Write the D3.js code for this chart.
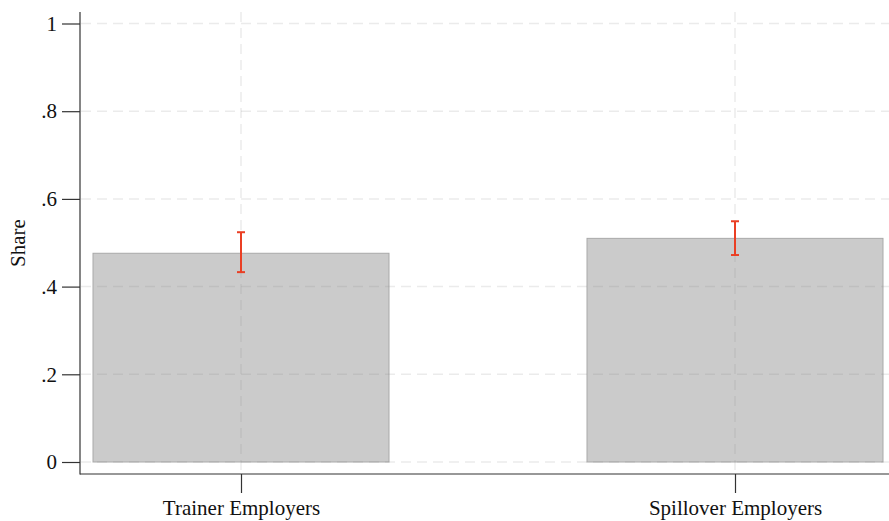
<!DOCTYPE html>
<html><head><meta charset="utf-8">
<script src="https://cdn.jsdelivr.net/npm/d3@7"></script>
<style>body{margin:0;background:#fff}svg{display:block}</style>
</head><body>
<script>
const categories = ["Trainer Employers", "Spillover Employers"];
const shares = [0.476, 0.510];
const ciLow = [0.433, 0.472];
const ciHigh = [0.524, 0.549];
const yTicks = [0, 0.2, 0.4, 0.6, 0.8, 1];
const yTickLabels = ["0", ".2", ".4", ".6", ".8", "1"];

const W = 889, H = 521;
const svg = d3.select("body").append("svg").attr("width", W).attr("height", H);
const font = "Liberation Serif, Times New Roman, serif";
const fs = 21;

const x = d3.scalePoint().domain(categories).range([241, 735]);
const y = d3.scaleLinear().domain([0, 1]).range([462, 23.5]);
const barW = 296;

// bars
svg.selectAll("rect.bar").data(categories).enter().append("rect")
  .attr("x", d => x(d) - barW / 2).attr("width", barW)
  .attr("y", (d, i) => y(shares[i])).attr("height", (d, i) => y(0) - y(shares[i]))
  .attr("fill", "#cbcbcb").attr("stroke", "#a9a9a9").attr("stroke-width", 1);

// grid
const grid = svg.append("g");
grid.selectAll("line.h").data(yTicks).enter().append("line")
  .attr("x1", 81).attr("x2", W).attr("y1", d => y(d)).attr("y2", d => y(d))
  .attr("stroke", "rgba(137,137,137,0.17)").attr("stroke-width", 1.5).attr("stroke-dasharray", "10,6");
grid.selectAll("line.v").data(categories).enter().append("line")
  .attr("x1", d => x(d)).attr("x2", d => x(d)).attr("y1", 12).attr("y2", 473)
  .attr("stroke", "rgba(137,137,137,0.17)").attr("stroke-width", 1.5).attr("stroke-dasharray", "10,6");

// error bars
const err = svg.append("g").attr("stroke", "#ea3f24").attr("stroke-width", 2);
categories.forEach((c, i) => {
  err.append("line").attr("x1", x(c)).attr("x2", x(c)).attr("y1", y(ciLow[i])).attr("y2", y(ciHigh[i]));
  err.append("line").attr("x1", x(c) - 4).attr("x2", x(c) + 4).attr("y1", y(ciLow[i])).attr("y2", y(ciLow[i]));
  err.append("line").attr("x1", x(c) - 4).attr("x2", x(c) + 4).attr("y1", y(ciHigh[i])).attr("y2", y(ciHigh[i]));
});

// y axis
const yAxis = d3.axisLeft(y).tickValues(yTicks).tickFormat((d, i) => yTickLabels[i]).tickSize(18).tickPadding(5);
const gy = svg.append("g").attr("transform", "translate(80,0)").call(yAxis);
gy.select(".domain").remove();
gy.append("line").attr("x1", 0).attr("x2", 0).attr("y1", 12).attr("y2", 474.5).attr("stroke", "#333").attr("stroke-width", 1.2);
gy.selectAll(".tick line").attr("stroke", "#333").attr("stroke-width", 1.2);
gy.selectAll(".tick text").attr("font-family", font).attr("font-size", fs).attr("fill", "#111");

// x axis
const xAxis = d3.axisBottom(x).tickSize(19).tickPadding(7);
const gx = svg.append("g").attr("transform", "translate(0,474)").call(xAxis);
gx.select(".domain").remove();
gx.append("line").attr("x1", 80).attr("x2", W).attr("y1", 0).attr("y2", 0).attr("stroke", "#333").attr("stroke-width", 1.2);
gx.selectAll(".tick line").attr("stroke", "#333").attr("stroke-width", 1.2);
gx.selectAll(".tick text").attr("font-family", font).attr("font-size", fs).attr("fill", "#111");

// y label
svg.append("text").attr("transform", "translate(25,243) rotate(-90)")
  .attr("text-anchor", "middle").attr("font-family", font).attr("font-size", fs).attr("fill", "#111").text("Share");
</script>
</body></html>
